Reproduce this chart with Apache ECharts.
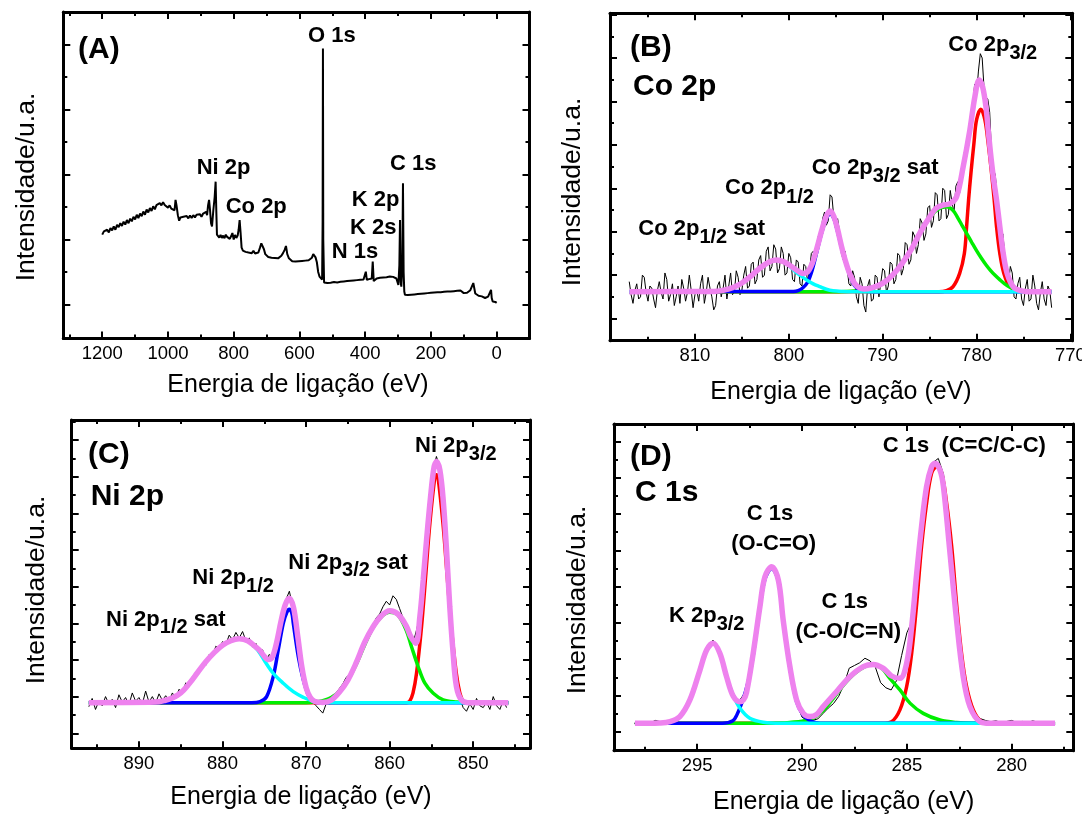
<!DOCTYPE html>
<html><head><meta charset="utf-8">
<script src="https://cdn.jsdelivr.net/npm/echarts@6/dist/echarts.min.js"></script>
<style>html,body{margin:0;padding:0;background:#fff}#c{width:1082px;height:816px}</style>
</head><body><div id="c"></div>
<script>
// ---------------- DATA (energy eV, intensity a.u.) ----------------
// (A) survey spectrum
const surveyA = [[1200,2.15],[1195,2.25],[1190,2.2],[1185,2.3],[1180,2.22],[1175,2.35],[1170,2.28],[1165,2.4],[1160,2.3],[1155,2.45],[1150,2.38],[1145,2.5],[1140,2.42],[1135,2.55],[1130,2.46],[1125,2.6],[1120,2.5],[1115,2.64],[1110,2.56],[1105,2.7],[1100,2.62],[1095,2.76],[1090,2.66],[1085,2.8],[1080,2.72],[1075,2.86],[1070,2.76],[1065,2.92],[1060,2.83],[1055,2.97],[1050,2.88],[1045,3.02],[1040,2.93],[1035,3.06],[1030,3.0],[1025,3.12],[1020,3.05],[1015,3.15],[1010,3.06],[1005,3.1],[1000,2.98],[995,3.05],[990,2.95],[985,3.0],[980,2.9],[977,3.22],[974,3.05],[970,2.75],[966,2.58],[962,2.68],[958,2.62],[953,2.7],[948,2.64],[943,2.72],[938,2.65],[933,2.74],[928,2.66],[923,2.75],[918,2.68],[913,2.76],[908,2.7],[903,2.78],[898,2.7],[893,2.8],[888,2.74],[884,2.85],[881,2.75],[878,3.05],[875,3.22],[872,2.9],[869,2.5],[866,2.4],[862,2.9],[858,3.3],[855,3.78],[853,2.9],[851,2.15],[848,2.12],[844,2.06],[840,2.14],[836,2.05],[832,2.12],[828,2.04],[824,2.15],[820,2.08],[816,2.12],[812,2.02],[808,2.1],[804,2.2],[800,2.0],[796,2.14],[792,2.05],[788,2.12],[785,2.3],[782,2.6],[779,2.2],[776,1.75],[772,1.66],[768,1.7],[764,1.62],[760,1.68],[755,1.6],[750,1.66],[745,1.58],[740,1.65],[735,1.57],[730,1.62],[725,1.6],[720,1.75],[716,1.88],[712,1.85],[708,1.7],[704,1.55],[700,1.5],[695,1.46],[690,1.5],[685,1.44],[680,1.48],[675,1.43],[670,1.47],[665,1.42],[660,1.46],[655,1.5],[650,1.58],[645,1.68],[641,1.8],[637,1.55],[632,1.42],[627,1.36],[622,1.33],[617,1.37],[612,1.32],[607,1.36],[602,1.33],[597,1.37],[592,1.34],[587,1.38],[582,1.35],[577,1.39],[572,1.36],[567,1.42],[562,1.44],[558,1.55],[555,1.58],[551,1.45],[547,1.3],[543,1.0],[539,0.86],[535,0.82],[531,0.77],[529.5,2.5],[528.5,7.88],[527.5,2.0],[525,0.68],[520,0.65],[515,0.66],[510,0.62],[505,0.67],[500,0.64],[495,0.69],[490,0.65],[485,0.68],[480,0.66],[475,0.7],[470,0.67],[465,0.71],[460,0.68],[455,0.72],[450,0.69],[445,0.73],[440,0.7],[435,0.74],[430,0.71],[425,0.75],[420,0.72],[415,0.76],[410,0.73],[405,0.77],[401,0.74],[398,1.01],[395,0.76],[392,0.75],[388,0.78],[384,0.74],[380,0.8],[377,1.32],[374,0.72],[370,0.76],[365,0.8],[360,0.77],[355,0.82],[350,0.79],[345,0.83],[340,0.8],[335,0.84],[330,0.81],[325,0.86],[320,0.82],[315,0.85],[310,0.83],[305,0.8],[302,0.7],[299,0.6],[296,1.2],[294,2.6],[292,0.7],[290,0.55],[287,1.2],[285,3.73],[283,1.0],[281,0.4],[279,0.3],[275,0.31],[270,0.29],[265,0.32],[260,0.3],[255,0.33],[250,0.31],[245,0.34],[240,0.32],[235,0.35],[230,0.33],[225,0.36],[220,0.34],[215,0.37],[210,0.35],[205,0.38],[200,0.36],[195,0.38],[190,0.37],[185,0.4],[180,0.38],[175,0.4],[170,0.38],[165,0.41],[160,0.39],[155,0.42],[150,0.4],[145,0.42],[140,0.4],[135,0.43],[130,0.41],[125,0.44],[120,0.42],[115,0.46],[110,0.43],[105,0.38],[100,0.35],[96,0.32],[90,0.36],[85,0.4],[80,0.44],[75,0.5],[71,0.66],[68,0.5],[65,0.34],[60,0.3],[55,0.27],[50,0.26],[45,0.25],[40,0.22],[35,0.2],[30,0.19],[26,0.24],[23,0.3],[20,0.25],[17,0.45],[15,0.2],[12,0.09],[8,0.14],[4,0.08],[0,0.05]];

// (B) Co 2p
const coData = [[817,1.7],[816.8,1.1],[816.6,0.7],[816.4,1.3],[816.2,1.6],[816,0.9],[815.8,1.0],[815.6,2.0],[815.4,1.9],[815.2,1.2],[815,0.8],[814.8,1.5],[814.6,1.4],[814.4,0.9],[814.2,0.5],[814,1.3],[813.8,1.7],[813.6,1.2],[813.4,0.9],[813.2,2.1],[813,1.8],[812.8,0.8],[812.6,1.1],[812.4,1.6],[812.2,0.6],[812,1.0],[811.8,1.5],[811.6,0.7],[811.4,1.8],[811.2,1.4],[811,0.8],[810.8,1.2],[810.6,2.0],[810.4,1.3],[810.2,0.5],[810,1.1],[809.8,1.3],[809.6,0.8],[809.4,1.6],[809.2,2.0],[809,0.7],[808.8,1.2],[808.6,1.9],[808.4,1.4],[808.2,1.0],[808,0.4],[807.8,0.6],[807.6,1.5],[807.4,1.7],[807.2,1.0],[807,1.4],[806.8,2.0],[806.6,0.9],[806.4,1.5],[806.2,2.1],[806,1.1],[805.8,1.2],[805.6,2.2],[805.4,1.9],[805.2,1.1],[805,1.3],[804.8,2.0],[804.6,2.4],[804.4,1.4],[804.2,1.5],[804,2.5],[803.8,2.6],[803.6,1.6],[803.4,1.8],[803.2,2.7],[803,2.9],[802.8,1.9],[802.6,2.0],[802.4,3.1],[802.2,3.3],[802,2.2],[801.8,2.4],[801.6,3.4],[801.4,3.2],[801.2,2.1],[801,2.3],[800.8,3.3],[800.6,3.0],[800.4,2.0],[800.2,2.1],[800,3.0],[799.8,2.8],[799.6,1.8],[799.4,1.7],[799.2,2.7],[799,2.6],[798.8,1.6],[798.6,1.5],[798.4,2.5],[798.2,2.4],[798,1.7],[797.8,2.2],[797.6,3.0],[797.4,3.1],[797.2,2.7],[797,3.5],[796.8,3.9],[796.6,3.8],[796.4,4.6],[796.2,4.9],[796,4.3],[795.8,4.5],[795.6,5.7],[795.4,5.6],[795.2,4.6],[795,4.1],[794.8,4.6],[794.6,4.0],[794.4,3.0],[794.2,2.7],[794,3.1],[793.8,2.4],[793.6,1.6],[793.4,1.5],[793.2,2.2],[793,1.9],[792.8,1.0],[792.6,0.7],[792.4,1.9],[792.2,1.6],[792,0.6],[791.8,0.3],[791.6,1.5],[791.4,1.8],[791.2,0.8],[791,0.9],[790.8,2.0],[790.6,1.9],[790.4,1.0],[790.2,1.0],[790,2.3],[789.8,2.2],[789.6,1.2],[789.4,1.5],[789.2,2.6],[789,2.5],[788.8,1.6],[788.6,1.8],[788.4,3.0],[788.2,2.9],[788,2.0],[787.8,2.3],[787.6,3.5],[787.4,3.4],[787.2,2.5],[787,2.7],[786.8,4.0],[786.6,3.8],[786.4,3.0],[786.2,3.4],[786,4.6],[785.8,4.4],[785.6,3.6],[785.4,3.9],[785.2,5.1],[785,5.2],[784.8,4.2],[784.6,4.5],[784.4,5.8],[784.2,5.7],[784,4.5],[783.8,4.6],[783.6,6.0],[783.4,5.9],[783.2,4.6],[783,4.8],[782.8,5.9],[782.6,5.3],[782.4,4.9],[782.2,6.1],[782,6.3],[781.8,5.8],[781.6,6.4],[781.4,7.4],[781.2,7.9],[781,8.0],[780.8,8.4],[780.6,9.4],[780.4,9.9],[780.2,10.8],[780,10.3],[779.8,11.4],[779.6,12.2],[779.4,12.0],[779.2,10.6],[779,10.2],[778.8,10.1],[778.6,9.5],[778.4,7.6],[778.2,6.9],[778,6.6],[777.8,5.6],[777.6,4.1],[777.4,3.6],[777.2,3.9],[777,3.0],[776.8,1.9],[776.6,1.6],[776.4,2.4],[776.2,2.1],[776,1.0],[775.8,0.9],[775.6,1.6],[775.4,1.9],[775.2,0.9],[775,0.6],[774.8,1.4],[774.6,1.8],[774.4,0.8],[774.2,0.9],[774,2.0],[773.8,1.5],[773.6,0.7],[773.4,0.4],[773.2,1.2],[773,1.7],[772.8,0.9],[772.6,0.6],[772.4,1.5],[772.2,1.3],[772,0.5]];
const coFit = [[817,1.24],[808,1.25],[807,1.3],[806,1.42],[805,1.64],[804,1.97],[803,2.35],[802,2.63],[801.3,2.7],[800.5,2.61],[800,2.48],[799.5,2.33],[799,2.18],[798.5,2.08],[798,2.15],[797.5,2.55],[797,3.25],[796.5,4.05],[796,4.72],[795.6,4.95],[795.2,4.7],[794.8,4.1],[794.4,3.35],[794,2.7],[793.5,2.05],[793,1.62],[792.5,1.42],[792,1.36],[791,1.44],[790,1.62],[789,1.98],[788,2.5],[787,3.15],[786,3.97],[785,4.68],[784.3,5.08],[783.6,5.22],[782.8,5.3],[782.13,5.61],[781.42,7.0],[780.71,8.69],[780.18,10.22],[779.72,10.99],[779.36,10.68],[779,9.76],[778.76,8.69],[778.51,7.61],[778.22,6.53],[777.87,5.46],[777.52,4.23],[777.16,3.0],[776.74,2.08],[776.1,1.47],[775.2,1.27],[774.5,1.24],[772,1.24]];
const co2p32 = [[817,1.24],[784,1.24],[783.2,1.29],[782.5,1.47],[781.8,2.08],[781.3,3.0],[781.06,4.23],[780.85,5.46],[780.6,6.69],[780.28,8.07],[780,9.15],[779.54,9.64],[779.11,9.15],[778.76,8.07],[778.4,6.69],[778.12,5.46],[777.87,4.23],[777.52,3.0],[777.09,2.08],[776.45,1.47],[775.4,1.28],[774.5,1.24],[772,1.24]];
const co2p32sat = [[817,1.24],[795,1.24],[793,1.27],[792,1.3],[791,1.4],[790,1.6],[789,1.97],[788,2.5],[787,3.15],[786,3.95],[785,4.62],[784.3,4.98],[783.2,5.15],[782.5,4.98],[782,4.64],[781.5,4.26],[781,3.88],[780.5,3.5],[780,3.13],[779.5,2.79],[779,2.48],[778.5,2.21],[778,1.98],[777.5,1.78],[777,1.6],[776.5,1.46],[776,1.36],[775.5,1.29],[775,1.26],[774.5,1.24],[772,1.24]];
const co2p12 = [[817,1.24],[799.5,1.25],[799,1.29],[798.5,1.42],[798,1.67],[797.5,2.25],[797,3.1],[796.5,3.95],[796,4.6],[795.6,4.82],[795.2,4.6],[794.8,4.0],[794.4,3.28],[794,2.65],[793.5,1.98],[793,1.52],[792.5,1.33],[792,1.27],[791,1.24],[772,1.24]];
const co2p12sat = [[817,1.24],[809,1.25],[808,1.26],[807,1.31],[806,1.42],[805,1.64],[804,1.97],[803,2.35],[802,2.63],[801.3,2.7],[800.5,2.6],[800,2.45],[799.2,2.12],[798.5,1.9],[798.1,1.78],[797.4,1.6],[796.7,1.47],[796,1.35],[795.3,1.28],[794.3,1.25],[793,1.24],[772,1.24]];

// (C) Ni 2p
const niData = [[896,1.45],[895.6,1.9],[895.2,1.3],[894.8,1.75],[894.4,1.5],[894,2.0],[893.6,1.6],[893.2,1.85],[892.8,1.4],[892.4,2.1],[892,1.7],[891.6,1.95],[891.2,1.55],[890.8,2.2],[890.4,1.75],[890,1.95],[889.6,1.6],[889.2,2.3],[888.8,1.7],[888.4,2.0],[888,1.65],[887.6,2.15],[887.2,1.8],[886.8,2.05],[886.4,1.75],[886,2.2],[885.6,1.9],[885.2,2.4],[884.8,2.2],[884.4,2.75],[884,2.6],[883.6,3.1],[883.2,3.25],[882.8,3.5],[882.4,3.8],[882,3.7],[881.6,4.3],[881.2,4.2],[880.8,4.75],[880.4,4.6],[880,5.0],[879.6,4.85],[879.2,5.35],[878.8,5.1],[878.4,5.5],[878,5.2],[877.6,5.55],[877.2,5.05],[876.8,5.2],[876.4,4.7],[876,4.9],[875.6,4.45],[875.2,4.55],[874.8,3.95],[874.4,4.3],[874,4.1],[873.6,4.9],[873.2,5.8],[872.8,6.7],[872.4,7.3],[872,7.75],[871.6,6.9],[871.2,5.9],[870.8,4.6],[870.4,3.4],[870,2.5],[869.6,1.9],[869.2,1.7],[868.8,1.5],[868.4,1.3],[868,1.1],[867.6,1.6],[867.2,1.7],[866.8,2.0],[866.4,2.2],[866,2.45],[865.6,2.7],[865.2,3.05],[864.8,3.2],[864.4,3.6],[864,3.9],[863.6,4.35],[863.2,4.6],[862.8,5.2],[862.4,5.5],[862,5.9],[861.6,6.3],[861.2,6.5],[860.8,6.9],[860.4,7.2],[860,7.0],[859.6,7.5],[859.2,7.3],[858.8,6.8],[858.4,6.3],[858,5.8],[857.6,5.3],[857.2,4.9],[856.8,5.6],[856.4,6.4],[856,8.4],[855.6,10.6],[855.2,12.6],[854.8,14.3],[854.4,15.1],[854,14.5],[853.6,12.8],[853.2,10.1],[852.8,7.0],[852.4,4.4],[852,2.6],[851.6,1.9],[851.2,1.4],[850.8,1.2],[850.4,1.6],[850,1.3],[849.6,1.9],[849.2,1.5],[848.8,1.4],[848.4,1.7],[848,1.3],[847.6,2.0],[847.2,1.5],[846.8,1.3],[846.4,1.8],[846,1.4]];
const niFit = [[896,1.67],[888,1.7],[887,1.78],[886,1.92],[885,2.2],[884,2.7],[883,3.3],[882,3.9],[881,4.4],[880,4.8],[879,5.05],[878,5.15],[877,5.05],[876,4.7],[875.5,4.5],[875,4.2],[874.5,4.02],[874,4.2],[873.5,5.0],[873,6.1],[872.5,7.0],[872,7.36],[871.5,6.85],[871,5.3],[870.5,3.6],[870,2.5],[869.5,1.95],[869,1.75],[868,1.68],[867,1.8],[866,2.25],[865,2.9],[864,3.85],[863,4.95],[862,5.8],[861,6.4],[860,6.69],[859,6.5],[858,5.85],[857.5,5.3],[856.86,4.91],[856.38,6.36],[855.98,8.36],[855.58,10.55],[855.1,12.9],[854.67,14.55],[854.38,14.82],[853.99,14.36],[853.59,12.73],[853.19,10.0],[852.8,6.9],[852.4,4.36],[852,2.54],[851.4,1.82],[850.4,1.67],[845.8,1.67]];
const ni2p32 = [[896,1.67],[858,1.67],[857.6,1.75],[857.2,2.2],[856.78,3.27],[856.18,5.82],[855.66,8.73],[855.18,11.46],[854.58,14.0],[854.4,14.1],[854.22,14.0],[853.62,11.46],[853.14,8.73],[852.62,5.82],[852.02,3.27],[851.6,2.2],[851.2,1.75],[850.8,1.67],[845.8,1.67]];
const ni2p32sat = [[896,1.67],[870,1.67],[869,1.7],[868,1.78],[867,1.95],[866,2.3],[865,2.9],[864,3.75],[863,4.8],[862,5.75],[861,6.35],[860,6.6],[859,6.45],[858,5.6],[857.38,4.72],[856.58,3.63],[855.78,2.73],[854.78,2.18],[853.59,1.82],[852,1.7],[850.5,1.67],[845.8,1.67]];
const ni2p12 = [[896,1.67],[876.5,1.67],[875.5,1.73],[874.72,2.0],[873.93,3.09],[873.33,4.54],[872.73,6.0],[872.3,6.6],[872,6.76],[871.7,6.55],[871.53,6.0],[870.93,4.18],[870.33,2.91],[869.74,2.09],[869.14,1.73],[868.5,1.67],[845.8,1.67]];
const ni2p12sat = [[896,1.67],[888,1.7],[887,1.78],[886,1.92],[885,2.2],[884,2.7],[883,3.3],[882,3.9],[881,4.4],[880,4.8],[879,5.05],[878,5.15],[877,5.05],[876,4.65],[875.5,4.35],[874.9,3.9],[873.93,3.27],[872.73,2.73],[871.53,2.27],[870.33,1.96],[869.14,1.75],[867.5,1.68],[866,1.67],[845.8,1.67]];

// (D) C 1s
const cData = [[298,0.46],[297.75,0.5],[297.5,0.44],[297.25,0.48],[297,0.62],[296.75,0.55],[296.5,0.5],[296.25,0.58],[296,0.72],[295.75,0.95],[295.5,1.45],[295.25,2.15],[295,3.0],[294.75,3.9],[294.5,4.65],[294.25,5.05],[294,4.7],[293.75,3.85],[293.5,2.85],[293.25,2.05],[293,1.7],[292.75,2.1],[292.5,3.2],[292.25,4.9],[292,6.9],[291.75,8.5],[291.5,9.15],[291.25,8.9],[291,7.3],[290.75,5.0],[290.5,2.9],[290.25,1.55],[290,0.8],[289.75,0.62],[289.5,0.63],[289.25,0.7],[289,1.0],[288.75,1.3],[288.5,1.55],[288.25,1.95],[288,2.6],[287.75,3.5],[287.5,3.65],[287.25,3.8],[287,4.05],[286.75,3.9],[286.5,3.55],[286.25,2.7],[286,2.42],[285.75,2.3],[285.5,2.8],[285.25,4.2],[285,5.45],[284.75,6.1],[284.5,9.0],[284.25,12.0],[284,14.1],[283.75,14.85],[283.5,15.07],[283.25,14.2],[283,11.3],[282.75,8.3],[282.5,5.2],[282.25,2.9],[282,1.55],[281.75,0.95],[281.5,0.72],[281.25,0.62],[281,0.55],[280.75,0.6],[280.5,0.5],[280.25,0.56],[280,0.62],[279.75,0.5],[279.5,0.57],[279.25,0.48],[279,0.6],[278.75,0.52],[278.5,0.55],[278.25,0.49],[278,0.56]];
const cFit = [[297.97,0.46],[296.8,0.48],[296.3,0.55],[295.83,0.83],[295.35,1.75],[294.87,3.4],[294.55,4.5],[294.24,4.87],[293.92,4.32],[293.6,3.03],[293.28,1.95],[292.96,1.65],[292.8,1.75],[292.65,2.15],[292.33,4.32],[292.01,6.89],[291.77,8.55],[291.45,9.1],[291.13,8.36],[290.9,6.16],[290.58,3.59],[290.26,1.75],[289.94,1.01],[289.62,0.83],[289.3,0.95],[288.99,1.38],[288.35,2.21],[287.72,3.03],[287.08,3.59],[286.6,3.71],[286.12,3.49],[285.73,3.07],[285.33,2.94],[285.01,3.77],[284.77,5.79],[284.53,8.73],[284.3,11.3],[284.06,13.51],[283.82,14.61],[283.66,14.8],[283.42,14.43],[283.26,13.57],[282.94,9.83],[282.63,6.16],[282.31,3.03],[281.99,1.38],[281.51,0.55],[281.03,0.46],[277.93,0.46]];
const cCC = [[297.97,0.46],[286.2,0.46],[285.73,0.55],[285.33,1.2],[285.01,2.48],[284.77,4.32],[284.53,7.08],[284.3,10.2],[284.06,12.59],[283.82,14.25],[283.58,14.61],[283.34,14.25],[283.1,12.59],[282.86,10.2],[282.63,7.08],[282.39,4.32],[282.15,2.48],[281.83,1.2],[281.43,0.55],[281,0.46],[277.93,0.46]];
const cCO = [[297.97,0.46],[293.3,0.46],[291,0.48],[290.5,0.52],[290,0.58],[289.5,0.72],[289,1.15],[288.5,1.85],[288,2.6],[287.5,3.2],[287,3.58],[286.6,3.7],[286.2,3.5],[285.81,2.94],[285.33,2.3],[284.84,1.56],[284.22,1.01],[283.42,0.64],[282.63,0.5],[281.83,0.46],[277.93,0.46]];
const cOCO = [[297.97,0.46],[293.8,0.46],[293.3,0.6],[293.1,0.95],[292.9,1.5],[292.7,2.2],[292.5,3.1],[292.33,4.2],[292.01,6.8],[291.77,8.4],[291.45,9.0],[291.13,8.3],[290.9,6.1],[290.58,3.5],[290.26,1.65],[289.94,0.9],[289.62,0.6],[289.3,0.5],[289,0.46],[277.93,0.46]];
const cK2p = [[297.97,0.46],[296.8,0.46],[296.3,0.55],[295.83,0.83],[295.35,1.75],[294.87,3.4],[294.55,4.5],[294.24,4.87],[293.92,4.3],[293.6,3.0],[293.28,2.0],[292.96,1.29],[292.49,0.74],[291.85,0.52],[291,0.46],[277.93,0.46]];

// tick values
const ticksA = {xMaj:[1200,1000,800,600,400,200,0], xMin:[1300,1100,900,700,500,300,100], yMaj:[0,2,4,6,8], yMin:[1,3,5,7]};
const ticksB = {xMaj:[810,800,790,780,770], xMin:[815,805,795,785,775], yMaj:[0,2,4,6,8,10,12,14], yMin:[1,3,5,7,9,11,13]};
const ticksC = {xMaj:[890,880,870,860,850], xMin:[895,885,875,865,855,845], yMaj:[0,2,4,6,8,10,12,14,16], yMin:[1,3,5,7,9,11,13,15,17]};
const ticksD = {xMaj:[295,290,285,280], xMin:[297.5,292.5,287.5,282.5,277.5], yMaj:[0,2,4,6,8,10,12,14,16], yMin:[1,3,5,7,9,11,13,15]};

// ---------------- LAYOUT ----------------
const FONT = '"Liberation Sans", Arial, Helvetica, sans-serif';
const C_RED='#ff0000', C_GREEN='#00ee00', C_BLUE='#0000ff', C_CYAN='#00ffff', C_PINK='#ee82ee';

const panels = [
 {grid:{left:63.3, top:12, width:466.2, height:326.5}, xr:[-100,1318.5], yr:[-1.046,9.0], t:ticksA,
  series:[{d:surveyA, c:'#000', w:2, s:false}]},
 {grid:{left:610, top:13.3, width:462.3, height:327.4}, xr:[769.8,819.05], yr:[-1.02,14.06], t:ticksB,
  series:[{d:coData,c:'#000',w:1,s:false},{d:co2p32,c:C_RED,w:3.5},{d:co2p32sat,c:C_GREEN,w:3.5},{d:co2p12,c:C_BLUE,w:3.5},{d:co2p12sat,c:C_CYAN,w:3.5},{d:coFit,c:C_PINK,w:5.5}]},
 {grid:{left:71.7, top:420, width:458.3, height:328.3}, xr:[843.2,898.05], yr:[-0.82,17.09], t:ticksC,
  series:[{d:niData,c:'#000',w:1,s:false},{d:ni2p32,c:C_RED,w:3.5},{d:ni2p32sat,c:C_GREEN,w:3.5},{d:ni2p12,c:C_BLUE,w:3.5},{d:ni2p12sat,c:C_CYAN,w:3.5},{d:niFit,c:C_PINK,w:5.5}]},
 {grid:{left:614, top:424, width:459.3, height:326.7}, xr:[277.06,298.97], yr:[-1.05,16.97], t:ticksD,
  series:[{d:cData,c:'#000',w:1,s:false},{d:cCC,c:C_RED,w:3.5},{d:cCO,c:C_GREEN,w:3.5},{d:cOCO,c:C_BLUE,w:3.5},{d:cK2p,c:C_CYAN,w:3.5},{d:cFit,c:C_PINK,w:5.5}]}
];

const grids=[], xAxes=[], yAxes=[], series=[];
panels.forEach((p,i)=>{
  grids.push(Object.assign({outerBoundsMode:'none', containLabel:false}, p.grid));
  const base = (r)=>({gridIndex:i, type:'value', min:r[0], max:r[1], splitLine:{show:false}, minorTick:{show:false}, axisPointer:{show:false}, silent:true});
  const mk = (r, pos, vals, len, line, label, extra) => Object.assign(base(r), {
    position:pos,
    axisLine:{show:line, onZero:false, lineStyle:{color:'#000', width:3}},
    axisTick:{show:true, inside:true, length:len, customValues:vals, lineStyle:{color:'#000', width:2}},
    axisLabel:{show:label, customValues:vals, margin:6, color:'#000', fontSize:18.5, fontFamily:FONT, formatter:(v)=>String(v)}
  }, extra||{});
  const xi = xAxes.length, yi = yAxes.length;
  xAxes.push(mk(p.xr,'bottom',p.t.xMaj,7,true,true,{inverse:true}));
  xAxes.push(mk(p.xr,'bottom',p.t.xMin,4,false,false,{inverse:true}));
  xAxes.push(mk(p.xr,'top',p.t.xMaj,7,true,false,{inverse:true}));
  xAxes.push(mk(p.xr,'top',p.t.xMin,4,false,false,{inverse:true}));
  yAxes.push(mk(p.yr,'left',p.t.yMaj,7,true,false));
  yAxes.push(mk(p.yr,'left',p.t.yMin,4,false,false));
  yAxes.push(mk(p.yr,'right',p.t.yMaj,7,true,false));
  yAxes.push(mk(p.yr,'right',p.t.yMin,4,false,false));
  p.series.forEach(s=>{
    series.push({type:'line', xAxisIndex:xi, yAxisIndex:yi, data:s.d, showSymbol:false, symbol:'none',
      smooth: s.s===false ? false : 0.35, lineStyle:{color:s.c, width:s.w}, itemStyle:{color:s.c},
      silent:true, animation:false, emphasis:{disabled:true}});
  });
});

// ---------------- TEXT ----------------
const mctx = document.createElement('canvas').getContext('2d');
const fnt = (size,bold)=> (bold?'bold ':'') + size + 'px ' + FONT;
function tw(t,f){ mctx.font=f; return mctx.measureText(t).width; }
const graphics=[];
function txt(x, baseline, text, size, bold, align){
  graphics.push({type:'text', x:x, y:baseline - 0.3465*size, silent:true,
    style:{text:text, font:fnt(size,bold), fill:'#000', textAlign:align||'left', align:align||'left', textVerticalAlign:'middle', verticalAlign:'middle'}});
}
// label made of [text, size, dy] parts placed one after the other
function lab(x, baseline, parts){
  let cx = x;
  parts.forEach(pt=>{ const sz=pt[1]||22, dy=pt[2]||0; txt(cx, baseline+dy, pt[0], sz, true); cx += tw(pt[0], fnt(sz,true)); });
}
function ytitle(cx, cy){
  graphics.push({type:'text', x:cx, y:cy, rotation:Math.PI/2, silent:true,
    style:{text:'Intensidade/u.a.', font:fnt(26.5,false), fill:'#000', textAlign:'center', align:'center', textVerticalAlign:'middle', verticalAlign:'middle'}});
}
function xtitle(cx, cy){
  graphics.push({type:'text', x:cx, y:cy, silent:true,
    style:{text:'Energia de ligação (eV)', font:fnt(25,false), fill:'#000', textAlign:'center', align:'center', textVerticalAlign:'middle', verticalAlign:'middle'}});
}
ytitle(27,187); ytitle(573,192); ytitle(37,590); ytitle(578,600);
xtitle(298,385); xtitle(841,392); xtitle(301,797); xtitle(843.6,802);

// panel titles
lab(78,60,[['(A)',30]]);
lab(630,58.3,[['(B)',30]]); lab(633,96.7,[['Co 2p',30]]);
lab(88,465,[['(C)',30]]); lab(90.7,506.7,[['Ni 2p',30]]);
lab(630,466.7,[['(D)',30]]); lab(635,503,[['C 1s',30]]);
// (A) peak labels
lab(308,43.3,[['O 1s']]); lab(196.7,176,[['Ni 2p']]); lab(225.7,215,[['Co 2p']]);
lab(390,171.7,[['C 1s']]); lab(351.7,207.3,[['K 2p']]); lab(350,236,[['K 2s']]); lab(331.7,260,[['N 1s']]);
// (B)
lab(948.3,52.3,[['Co 2p'],['3/2',20,8]]);
lab(811.7,175.7,[['Co 2p'],['3/2',20,8],[' sat']]);
lab(725,196,[['Co 2p'],['1/2',20,8]]);
lab(638.3,236.7,[['Co 2p'],['1/2',20,8],[' sat']]);
// (C)
lab(415,453.3,[['Ni 2p'],['3/2',20,8]]);
lab(288.3,570.7,[['Ni 2p'],['3/2',20,7],[' sat']]);
lab(192.3,586,[['Ni 2p'],['1/2',20,7]]);
lab(106,627.3,[['Ni 2p'],['1/2',20,7],[' sat']]);
// (D)
lab(882.7,454,[['C 1s  (C=C/C-C)']]);
txt(770,521.7,'C 1s',22,true,'center'); txt(773.7,551.7,'(O-C=O)',22,true,'center');
txt(844.7,610,'C 1s',22,true,'center'); txt(848.3,640,'(C-O/C=N)',22,true,'center');
lab(669,623.3,[['K 2p'],['3/2',20,8]]);

const chart = echarts.init(document.getElementById('c'), null, {renderer:'canvas'});
chart.setOption({animation:false, backgroundColor:'#fff', grid:grids, xAxis:xAxes, yAxis:yAxes, series:series, graphic:{elements:graphics}});
</script></body></html>
